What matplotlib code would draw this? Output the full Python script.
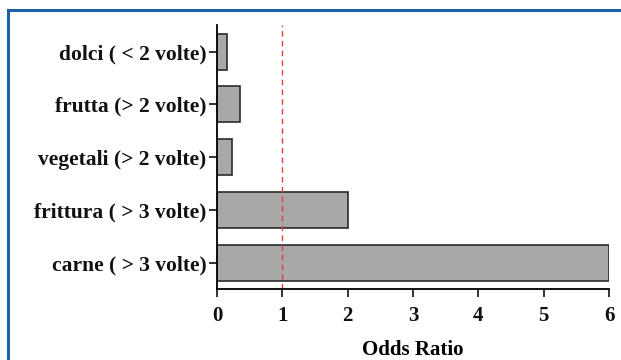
import matplotlib.pyplot as plt
from matplotlib.lines import Line2D

# categories bottom to top
categories = ['carne ( > 3 volte)', 'frittura ( > 3 volte)', 'vegetali (> 2 volte)',
              'frutta (> 2 volte)', 'dolci ( < 2 volte)']
odds_ratio = [6.0, 2.0, 0.23, 0.35, 0.15]
x_ticks = [0, 1, 2, 3, 4, 5, 6]

plt.rcParams['font.family'] = 'Liberation Serif'
plt.rcParams['font.weight'] = 'bold'

fig = plt.figure(figsize=(6.21, 3.6), dpi=100)
ax = fig.add_axes([0.3494, 0.197, 0.6313, 0.733])

ypos = range(len(categories))
ax.barh(ypos, odds_ratio, height=0.68, color='#a8a8a8', edgecolor='#2b2b2b', linewidth=1.2)
ax.axvline(1, color='#e0403a', linestyle=(0, (4, 3)), linewidth=1)

ax.set_xlim(0, 6)
ax.set_ylim(-0.5, 4.5)
ax.set_yticks(list(ypos))
ax.set_yticklabels(categories, fontsize=15.5, fontweight='bold')
ax.set_xticks(x_ticks)
ax.set_xticklabels([str(t) for t in x_ticks], fontsize=15, fontweight='bold')
ax.set_xlabel('Odds Ratio', fontsize=15, fontweight='bold', labelpad=10)

ax.spines['top'].set_visible(False)
ax.spines['right'].set_visible(False)
ax.spines['left'].set_linewidth(1.3)
ax.spines['bottom'].set_linewidth(1.3)
ax.tick_params(axis='both', length=6, width=1.3, colors='#222222', labelcolor='#111111')
ax.tick_params(axis='x', pad=6)
ax.tick_params(axis='y', pad=1.5)

# blue frame
fig.add_artist(Line2D([7.5 / 621, 7.5 / 621], [0, 1 - 10 / 360], color='#1f5fa6', linewidth=2.2,
                      transform=fig.transFigure))
fig.add_artist(Line2D([7.5 / 621, 1], [1 - 10 / 360, 1 - 10 / 360], color='#1f5fa6', linewidth=2.2,
                      transform=fig.transFigure))

fig.savefig('out.png', dpi=100)
